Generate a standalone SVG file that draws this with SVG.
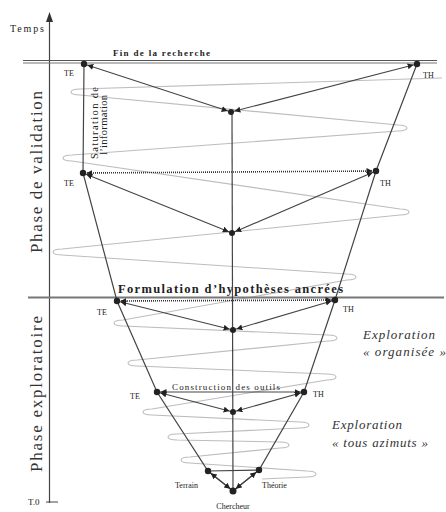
<svg xmlns="http://www.w3.org/2000/svg" width="446" height="512" viewBox="0 0 446 512" font-family="'Liberation Serif', 'DejaVu Serif', serif">
<style>
  text { font-family: "Liberation Serif", "DejaVu Serif", serif; fill: #222; }
  .lbl { font-size: 8px; }
  .dot { fill: #222; }
  .edge { fill: none; stroke: #444; stroke-width: 1.2; }
  .arr { fill: none; stroke: #444; stroke-width: 1.1; marker-start: url(#ah); marker-end: url(#ah); }
  .dotted { fill: none; stroke: #333; stroke-width: 1.6; stroke-dasharray: 1 1; marker-start: url(#ah); marker-end: url(#ah); }
  .spiral { fill: none; stroke: #bdbdbd; stroke-width: 1.1; stroke-linejoin: round; }
  .ital { font-style: italic; font-size: 13px; fill: #333; }
  .phase { font-size: 17px; fill: #333; }
</style>
<defs>
  <marker id="ah" markerUnits="userSpaceOnUse" markerWidth="12" markerHeight="7" refX="9.5" refY="3" orient="auto-start-reverse">
    <path d="M0,0 L6,3 L0,6 z" fill="#222"/>
  </marker>
</defs>

<!-- axis -->
<g id="axis">
  <line x1="49.5" y1="503" x2="49.5" y2="22" stroke="#444" stroke-width="1.2"/>
  <path d="M46,22 L49.5,12 L53,22 z" fill="#333"/>
  <line x1="46" y1="502" x2="58" y2="502" stroke="#444" stroke-width="1"/>
  <text x="10" y="32" font-size="10" textLength="34">Temps</text>
  <text x="28" y="505" font-size="9">T.0</text>
</g>

<!-- spiral -->
<g id="spiral">
  <path class="spiral" d="M442,78 L80,89 C68,89.5 68,94.5 80,95 L398,125 C410,125.5 410,130.5 398,131 L72,155 C60,155.5 60,160.5 72,161 L400,209 C412,209.5 412,214.5 400,215 L62,249 C50,249.5 50,254.5 62,255 L347,274 C359,274.5 359,279.5 347,280 L123,320 C111,320.5 111,325.5 123,326 L328,335 C340,335.5 340,340.5 328,341 L137,360 C125,360.5 125,365.5 137,366 L327,374 C339,374.5 339,379.5 327,380 L152,409 C140,409.5 140,414.5 152,415 L300,422 C312,422.5 312,427.5 300,428 L177,434 C165,434.5 165,439.5 177,440 L280,442 C292,442.5 292,447.5 280,448 L190,457 C178,457.5 178,462.5 190,463 L307,471 C319,471.5 319,476.5 307,477 L262,479"/>
</g>

<!-- phase limits -->
<g id="limits">
  <line x1="23" y1="60.5" x2="437" y2="60.5" stroke="#555" stroke-width="1"/>
  <line x1="23" y1="63" x2="437" y2="63" stroke="#777" stroke-width="1"/>
  <text x="113" y="56" font-size="9" font-weight="bold" textLength="97">Fin de la recherche</text>
  <line x1="28" y1="297.5" x2="444" y2="297.5" stroke="#777" stroke-width="2"/>
  <text x="118" y="293" font-size="12.5" font-weight="bold" textLength="225">Formulation d’hypothèses ancrées</text>
  <text class="phase" transform="translate(42,172) rotate(-90)" text-anchor="middle" textLength="162">Phase de validation</text>
  <text class="phase" transform="translate(42,394) rotate(-90)" text-anchor="middle" textLength="156">Phase exploratoire</text>
  <text font-size="10.5" transform="translate(98,123) rotate(-90)" text-anchor="middle" textLength="72">Saturation de</text>
  <text font-size="10.5" transform="translate(107,125) rotate(-90)" text-anchor="middle" textLength="60">l’information</text>
  <text class="ital" x="363" y="339" textLength="72">Exploration</text>
  <text class="ital" x="363" y="356" textLength="83">« organisée »</text>
  <text class="ital" x="332" y="429" textLength="70">Exploration</text>
  <text class="ital" x="332" y="447" textLength="96">« tous azimuts »</text>
</g>

<!-- connectors -->
<g id="connectors">
  <polyline class="edge" points="84,64 83,173 117,301 157,392 208,471 233,491"/>
  <polyline class="edge" points="417,64 376,171 335,300 304,392 259,470 233,491"/>
  <line class="edge" x1="232" y1="112" x2="233" y2="491"/>
  <line class="arr" x1="84" y1="64" x2="231" y2="112"/>
  <line class="arr" x1="417" y1="64" x2="231" y2="112"/>
  <line class="dotted" x1="83" y1="173" x2="376" y2="171"/>
  <line class="arr" x1="83" y1="173" x2="232" y2="233"/>
  <line class="arr" x1="376" y1="171" x2="232" y2="233"/>
  <line class="dotted" x1="117" y1="301" x2="335" y2="300"/>
  <line class="arr" x1="117" y1="301" x2="233" y2="330"/>
  <line class="arr" x1="335" y1="300" x2="233" y2="330"/>
  <line class="arr" x1="157" y1="392" x2="304" y2="392" stroke="#666"/>
  <line class="arr" x1="157" y1="392" x2="233" y2="412"/>
  <line class="arr" x1="304" y1="392" x2="233" y2="412"/>
  <line class="edge" x1="208" y1="471" x2="259" y2="470"/>
  <line class="arr" x1="208" y1="471" x2="233" y2="491"/>
  <line class="arr" x1="259" y1="470" x2="233" y2="491"/>
  <text x="172" y="390" font-size="9" textLength="108">Construction des outils</text>
</g>

<!-- nodes -->
<g id="te1"><circle class="dot" cx="84" cy="64" r="3.2"/><text class="lbl" x="64" y="76">TE</text></g>
<g id="th1"><circle class="dot" cx="417" cy="64" r="3.2"/><text class="lbl" x="423" y="78">TH</text></g>
<g id="c1"><circle class="dot" cx="231" cy="112" r="3"/></g>
<g id="te2"><circle class="dot" cx="83" cy="173" r="3.2"/><text class="lbl" x="64" y="186">TE</text></g>
<g id="th2"><circle class="dot" cx="376" cy="171" r="3.2"/><text class="lbl" x="380" y="186">TH</text></g>
<g id="c2"><circle class="dot" cx="232" cy="233" r="3"/></g>
<g id="te3"><circle class="dot" cx="117" cy="301" r="3.2"/><text class="lbl" x="97" y="315">TE</text></g>
<g id="th3"><circle class="dot" cx="335" cy="300" r="3.2"/><text class="lbl" x="343" y="312">TH</text></g>
<g id="c3"><circle class="dot" cx="233" cy="330" r="3"/></g>
<g id="te4"><circle class="dot" cx="157" cy="392" r="3.2"/><text class="lbl" x="130" y="399">TE</text></g>
<g id="th4"><circle class="dot" cx="304" cy="392" r="3.2"/><text class="lbl" x="313" y="397">TH</text></g>
<g id="c4"><circle class="dot" cx="233" cy="412" r="3"/></g>
<g id="terrain"><circle class="dot" cx="208" cy="471" r="3.2"/><text class="lbl" x="175" y="488">Terrain</text></g>
<g id="theorie"><circle class="dot" cx="259" cy="470" r="3.2"/><text class="lbl" x="262" y="488">Théorie</text></g>
<g id="chercheur"><circle class="dot" cx="233" cy="491" r="3.5"/><text class="lbl" x="233" y="509" text-anchor="middle">Chercheur</text></g>
</svg>
